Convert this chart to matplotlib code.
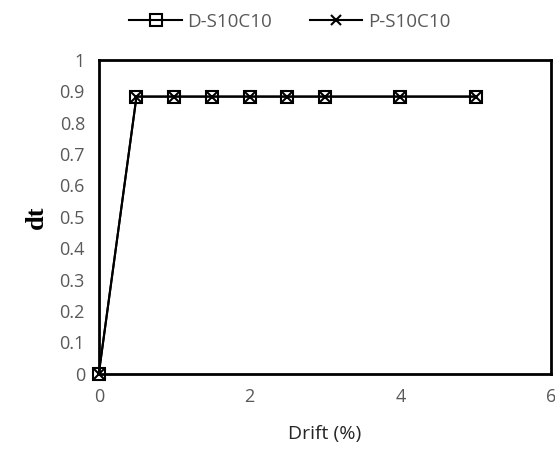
import matplotlib
matplotlib.use('Agg')
import matplotlib.pyplot as plt

# datos
drift = [0, 0.5, 1, 1.5, 2, 2.5, 3, 4, 5]
d_s10c10 = [0, 0.883, 0.883, 0.883, 0.883, 0.883, 0.883, 0.883, 0.883]
p_s10c10 = [0, 0.883, 0.883, 0.883, 0.883, 0.883, 0.883, 0.883, 0.883]
yticks = [0, 0.1, 0.2, 0.3, 0.4, 0.5, 0.6, 0.7, 0.8, 0.9, 1]
xticks = [0, 2, 4, 6]

plt.rcParams['font.family'] = ['Open Sans', 'DejaVu Sans']
gris = '#595959'

fig = plt.figure(figsize=(5.55, 4.57), dpi=100)
ax = fig.add_axes([0.178, 0.182, 0.815, 0.687])

ax.plot(drift, d_s10c10, color='black', lw=1.5, marker='s', ms=9, mfc='none',
        mec='black', mew=1.5, label='D-S10C10', clip_on=False, zorder=3)
ax.plot(drift, p_s10c10, color='black', lw=1.5, marker='x', ms=7, mew=1.5,
        label='P-S10C10', clip_on=False, zorder=3)

ax.set_xlim(0, 6)
ax.set_ylim(0, 1)
ax.set_xticks(xticks)
ax.set_yticks(yticks)
ax.set_yticklabels([f'{v:g}' for v in yticks])
ax.tick_params(length=0, labelsize=13, colors=gris, pad=10)
for s in ax.spines.values():
    s.set_linewidth(2)
    s.set_color('black')

ax.set_xlabel('Drift (%)', fontsize=14, color='#262626', labelpad=14)
ax.set_ylabel('dt', fontsize=19, fontweight='bold', family='Liberation Serif',
              labelpad=8)

leg = fig.legend(loc='center', bbox_to_anchor=(0.522, 0.952), ncol=2,
                 frameon=False, fontsize=13.5, handlelength=2.8, columnspacing=2.0,
                 handletextpad=0.3)
for t in leg.get_texts():
    t.set_color(gris)

fig.savefig('out.png', dpi=100)
